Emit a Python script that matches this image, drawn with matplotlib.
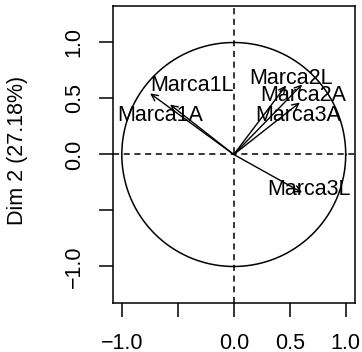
"""Circulo de correlacoes (PCA, variaveis) - Dim 1 x Dim 2."""
import matplotlib
matplotlib.use('Agg')
import matplotlib.pyplot as plt
import numpy as np

plt.rcParams.update({
    'font.family': ['Liberation Sans', 'DejaVu Sans'],
    'font.size': 15.5,
    'axes.linewidth': 1.1,
})

# Coordenadas das variaveis (Dim 1, Dim 2)
variables = ['Marca1L', 'Marca1A', 'Marca2L', 'Marca2A', 'Marca3A', 'Marca3L']
dim1 = [-0.747, -0.569, 0.467, 0.610, 0.590, 0.610]
dim2 = [0.545, 0.446, 0.616, 0.625, 0.464, -0.340]
ylab = 'Dim 2 (27.18%)'
xticks = [-1.0, -0.5, 0.0, 0.5, 1.0]
xtick_labels = ['\u22121.0', '', '0.0', '0.5', '1.0']
yticks = [-1.0, -0.5, 0.0, 0.5, 1.0]
ytick_labels = ['\u22121.0', '', '0.0', '0.5', '1.0']

# posicao dos rotulos (centro, linha de base)
label_pos = {
    'Marca1L': (-0.377, 0.565),
    'Marca1A': (-0.654, 0.297),
    'Marca2L': (0.514, 0.625),
    'Marca2A': (0.619, 0.476),
    'Marca3A': (0.579, 0.297),
    'Marca3L': (0.672, -0.366),
}

fig = plt.figure(figsize=(3.62, 3.52), dpi=100)
ax = fig.add_axes([0.3108, 0.1392, 0.6699, 0.8438])
ax.set_xlim(-1.083, 1.083)
ax.set_ylim(-1.326, 1.326)

t = np.linspace(0, 2 * np.pi, 400)
ax.plot(np.cos(t), np.sin(t), color='black', lw=1.1)
ax.axhline(0, color='black', lw=1.1, dashes=(4, 3))
ax.axvline(0, color='black', lw=1.1, dashes=(4, 3))

for name, x, y in zip(variables, dim1, dim2):
    ax.annotate('', xy=(x, y), xytext=(0, 0),
                arrowprops=dict(arrowstyle='->,head_length=0.3,head_width=0.15',
                                color='black', lw=1.0, shrinkA=0, shrinkB=0))
    lx, ly = label_pos[name]
    ax.text(lx, ly, name, ha='center', va='baseline', fontsize=15.5)

ax.set_xticks(xticks)
ax.set_xticklabels(xtick_labels)
ax.set_yticks(yticks)
ax.set_yticklabels(ytick_labels, rotation=90, va='center')
ax.tick_params(length=10, width=1.1, pad=10, labelsize=15.5)
ax.tick_params(axis='x', pad=11.5)
fig.text(18 / 362, 1 - 150 / 352, ylab, rotation=90, ha='center', va='center',
         fontsize=15.5)

fig.savefig('out.png', dpi=100)
